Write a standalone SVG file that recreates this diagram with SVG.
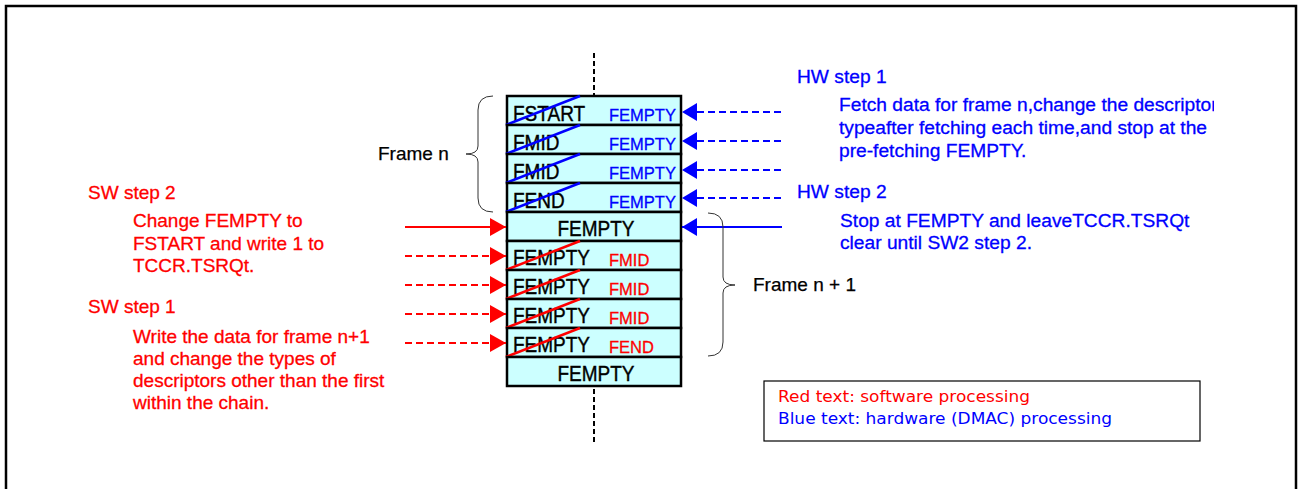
<svg xmlns="http://www.w3.org/2000/svg" width="1301" height="489" viewBox="0 0 1301 489">
<style>
text{font-family:"Liberation Sans",Arial,sans-serif}
.row{fill:#CCFFFF;stroke:#000;stroke-width:2.5}
.bk{font-size:19px;fill:#000;stroke:#000;stroke-width:0.35}
.bl{font-size:16.5px;fill:#0000FF;stroke:#0000FF;stroke-width:0.3}
.rd{font-size:16.5px;fill:#FF0000;stroke:#FF0000;stroke-width:0.3}
.sw{font-size:19px;fill:#FF0000;stroke:#FF0000;stroke-width:0.3}
.hw{font-size:19.2px;fill:#0000FF;stroke:#0000FF;stroke-width:0.3}
.lab{font-size:19px;fill:#000;stroke:#000;stroke-width:0.25}
.xb{stroke:#0000FF;stroke-width:2.5}
.xr{stroke:#FF0000;stroke-width:2.5}
.ab{stroke:#0000FF;stroke-width:2}
.ar{stroke:#FF0000;stroke-width:2}
.dash{stroke-dasharray:7 4}
.brace{fill:none;stroke:#333;stroke-width:1}
.leg{font-family:"DejaVu Sans",Tahoma,sans-serif;font-size:16px}
</style>
<defs>
<marker id="mb" markerUnits="userSpaceOnUse" markerWidth="16" markerHeight="18" refX="15" refY="9" orient="auto">
<path d="M0,0 L15,9 L0,18 Z" fill="#0000FF"/>
</marker>
<marker id="mr" markerUnits="userSpaceOnUse" markerWidth="17" markerHeight="18" refX="16" refY="9" orient="auto">
<path d="M0,0 L16,9 L0,18 Z" fill="#FF0000"/>
</marker>
<clipPath id="clipHW"><rect x="780" y="60" width="434" height="120"/></clipPath>
</defs>

<path d="M6,489 V6 H1296 V489" fill="none" stroke="#000" stroke-width="2.5"/>

<g id="centerline">
<line x1="594" y1="53" x2="594" y2="96" stroke="#000" stroke-width="2" stroke-dasharray="5 3"/>
<line x1="594" y1="389" x2="594" y2="442" stroke="#000" stroke-width="2" stroke-dasharray="5 3"/>
</g>

<g id="row1"><rect class="row" x="507" y="96" width="174" height="29"/><text class="bk" transform="translate(513 121) scale(1 1.15)">FSTART</text><text class="bl" x="609" y="121">FEMPTY</text><line class="xb" x1="506" y1="125" x2="580" y2="96"/></g>
<g id="row2"><rect class="row" x="507" y="125" width="174" height="29"/><text class="bk" transform="translate(513 150) scale(1 1.15)">FMID</text><text class="bl" x="609" y="150">FEMPTY</text><line class="xb" x1="506" y1="154" x2="580" y2="125"/></g>
<g id="row3"><rect class="row" x="507" y="154" width="174" height="29"/><text class="bk" transform="translate(513 179) scale(1 1.15)">FMID</text><text class="bl" x="609" y="179">FEMPTY</text><line class="xb" x1="506" y1="183" x2="580" y2="154"/></g>
<g id="row4"><rect class="row" x="507" y="183" width="174" height="29"/><text class="bk" transform="translate(513 208) scale(1 1.15)">FEND</text><text class="bl" x="609" y="208">FEMPTY</text><line class="xb" x1="506" y1="212" x2="580" y2="183"/></g>
<g id="row5"><rect class="row" x="507" y="212" width="174" height="29"/><text class="bk" text-anchor="middle" transform="translate(596 236) scale(1 1.15)">FEMPTY</text></g>
<g id="row6"><rect class="row" x="507" y="241" width="174" height="29"/><text class="bk" transform="translate(513 265) scale(1 1.15)">FEMPTY</text><text class="rd" x="609" y="266">FMID</text><line class="xr" x1="506" y1="270" x2="580" y2="241"/></g>
<g id="row7"><rect class="row" x="507" y="270" width="174" height="29"/><text class="bk" transform="translate(513 294) scale(1 1.15)">FEMPTY</text><text class="rd" x="609" y="295">FMID</text><line class="xr" x1="506" y1="299" x2="580" y2="270"/></g>
<g id="row8"><rect class="row" x="507" y="299" width="174" height="29"/><text class="bk" transform="translate(513 323) scale(1 1.15)">FEMPTY</text><text class="rd" x="609" y="324">FMID</text><line class="xr" x1="506" y1="328" x2="580" y2="299"/></g>
<g id="row9"><rect class="row" x="507" y="328" width="174" height="29"/><text class="bk" transform="translate(513 352) scale(1 1.15)">FEMPTY</text><text class="rd" x="609" y="353">FEND</text><line class="xr" x1="506" y1="357" x2="580" y2="328"/></g>
<g id="row10"><rect class="row" x="507" y="357" width="174" height="29"/><text class="bk" text-anchor="middle" transform="translate(596 381) scale(1 1.15)">FEMPTY</text></g>

<g id="connectors">
<line class="ab dash" x1="781" y1="112" x2="682" y2="112" marker-end="url(#mb)"/>
<line class="ab dash" x1="781" y1="141" x2="682" y2="141" marker-end="url(#mb)"/>
<line class="ab dash" x1="781" y1="170" x2="682" y2="170" marker-end="url(#mb)"/>
<line class="ab dash" x1="781" y1="198" x2="682" y2="198" marker-end="url(#mb)"/>
<line class="ab" x1="782" y1="227" x2="682" y2="227" marker-end="url(#mb)"/>
<line class="ar" x1="405" y1="227" x2="506" y2="227" marker-end="url(#mr)"/>
<line class="ar dash" x1="405" y1="256" x2="506" y2="256" marker-end="url(#mr)"/>
<line class="ar dash" x1="405" y1="285" x2="506" y2="285" marker-end="url(#mr)"/>
<line class="ar dash" x1="405" y1="314" x2="506" y2="314" marker-end="url(#mr)"/>
<line class="ar dash" x1="405" y1="343" x2="506" y2="343" marker-end="url(#mr)"/>
</g>

<g id="frame-n">
<path class="brace" d="M493,96 Q478,96 478,110 V146 Q478,154 466,154 Q478,154 478,162 V198 Q478,212 493,212"/>
<text class="lab" x="378" y="160">Frame n</text>
</g>
<g id="frame-n1">
<path class="brace" d="M708,213 Q723,213 723,227 V277 Q723,285 735,285 Q723,285 723,293 V342 Q723,356 708,356"/>
<text class="lab" x="753" y="291">Frame n + 1</text>
</g>

<g id="sw-step2">
<text class="sw" x="88" y="199">SW step 2</text>
<text class="sw" x="133" y="227">Change FEMPTY to</text>
<text class="sw" x="133" y="250">FSTART and write 1 to</text>
<text class="sw" x="133" y="272">TCCR.TSRQt.</text>
</g>
<g id="sw-step1">
<text class="sw" x="88" y="313">SW step 1</text>
<text class="sw" x="133" y="343">Write the data for frame n+1</text>
<text class="sw" x="133" y="365">and change the types of</text>
<text class="sw" x="133" y="387">descriptors other than the first</text>
<text class="sw" x="133" y="409">within the chain.</text>
</g>

<g id="hw-step1">
<text class="hw" x="797" y="83">HW step 1</text>
<g clip-path="url(#clipHW)">
<text class="hw" x="839" y="111">Fetch data for frame n,change the descriptor</text>
</g>
<text class="hw" x="839" y="134">typeafter fetching each time,and stop at the</text>
<text class="hw" x="839" y="157">pre-fetching FEMPTY.</text>
</g>
<g id="hw-step2">
<text class="hw" x="797" y="198">HW step 2</text>
<text class="hw" x="840" y="227">Stop at FEMPTY and leaveTCCR.TSRQt</text>
<text class="hw" x="840" y="249">clear until SW2 step 2.</text>
</g>

<g id="legend">
<rect x="764" y="381" width="436" height="60" fill="#fff" stroke="#000" stroke-width="1.2"/>
<text class="leg" x="778" y="402" fill="#FF0000" textLength="252" lengthAdjust="spacingAndGlyphs">Red text: software processing</text>
<text class="leg" x="778" y="424" fill="#0000FF" textLength="334" lengthAdjust="spacingAndGlyphs">Blue text: hardware (DMAC) processing</text>
</g>
</svg>
